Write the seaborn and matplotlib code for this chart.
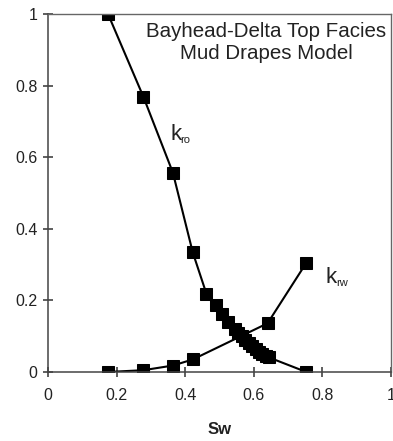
import matplotlib
matplotlib.use("Agg")
import matplotlib.pyplot as plt
import seaborn as sns
import pandas as pd

# Relative permeability curves, Bayhead-Delta top facies (mud drapes model)
sw_oil = [0.175, 0.278, 0.364, 0.422, 0.462, 0.490, 0.507, 0.526, 0.545, 0.555,
          0.565, 0.575, 0.585, 0.595, 0.605, 0.615, 0.625, 0.635, 0.643, 0.753]
kro = [1.000, 0.769, 0.557, 0.334, 0.218, 0.187, 0.163, 0.140, 0.120, 0.110,
       0.100, 0.090, 0.081, 0.072, 0.064, 0.056, 0.050, 0.045, 0.041, 0.000]
sw_water = [0.175, 0.278, 0.364, 0.422, 0.640, 0.753]
krw = [0.000, 0.005, 0.018, 0.035, 0.136, 0.305]

tick_values = [0, 0.2, 0.4, 0.6, 0.8, 1.0]
tick_labels = ["0", "0.2", "0.4", "0.6", "0.8", "1"]

sns.set_style("ticks")
plt.rcParams["font.family"] = ["Liberation Sans", "DejaVu Sans"]

oil = pd.DataFrame({"Sw": sw_oil, "kr": kro})
water = pd.DataFrame({"Sw": sw_water, "kr": krw})

fig = plt.figure(figsize=(3.93, 4.41), dpi=100)
ax = fig.add_axes([0.1222, 0.1565, 0.8728, 0.8115])

for df in (oil, water):
    sns.lineplot(data=df, x="Sw", y="kr", ax=ax, sort=False, estimator=None,
                 color="black", linewidth=1.5, marker="s", markersize=8.5,
                 markeredgecolor="black", markerfacecolor="black")

ax.set_xlim(0, 1)
ax.set_ylim(0, 1)
ax.set_xticks(tick_values)
ax.set_xticklabels(tick_labels)
ax.set_yticks(tick_values)
ax.set_yticklabels(tick_labels)
ax.tick_params(axis="both", which="major", bottom=True, left=True,
               top=False, right=False, direction="inout", length=7,
               width=1.1, color="#333333", labelsize=11.5,
               labelcolor="#222222")
ax.tick_params(axis="x", pad=8)
ax.tick_params(axis="y", pad=4)

for side in ("left", "bottom"):
    ax.spines[side].set_color("#444444")
    ax.spines[side].set_linewidth(1.1)
for side in ("top", "right"):
    ax.spines[side].set_visible(True)
    ax.spines[side].set_color("#666666")
    ax.spines[side].set_linewidth(1.0)

ax.set_xlabel("Sw", fontsize=12, fontweight="bold", color="#222222", labelpad=14)
ax.set_ylabel("")

ax.text(0.636, 0.978, "Bayhead-Delta Top Facies\nMud Drapes Model",
        transform=ax.transAxes, ha="center", va="top", fontsize=14.8,
        color="#222222", linespacing=1.2)

# curve labels: k with small subscript
ax.text(0.356, 0.648, "k", fontsize=16, color="#222222", va="baseline")
ax.text(0.386, 0.640, "ro", fontsize=8, color="#222222", va="baseline")
ax.text(0.809, 0.249, "k", fontsize=16, color="#222222", va="baseline")
ax.text(0.840, 0.240, "rw", fontsize=8, color="#222222", va="baseline")

fig.savefig("out.png", dpi=100)
